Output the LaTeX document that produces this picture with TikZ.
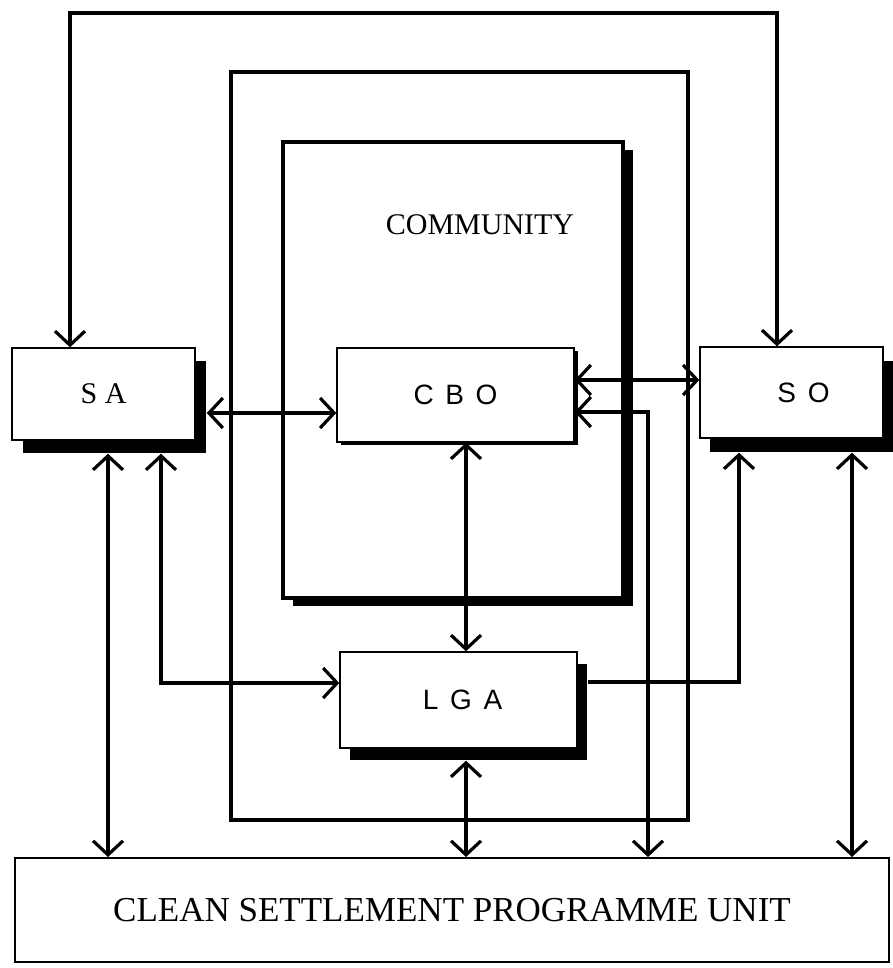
\documentclass[tikz,border=0pt]{standalone}
\usepackage{fontspec}
\setmainfont{Liberation Serif}
\newfontfamily\boxfont{Liberation Sans}[WordSpace=1.5]
\usepackage{tikz}
\usetikzlibrary{arrows.meta,calc,shadows}

\begin{document}
\begin{tikzpicture}[x=1pt, y=-1pt,
    >={Straight Barb[length=14pt,width=30pt]},
    unitbox/.style={draw, fill=white, line width=1.4pt, inner sep=0pt},
    shadowed/.style 2 args={drop shadow={shadow xshift=#1, shadow yshift=#2, fill=black, opacity=1}},
    framebox/.style={draw, line width=3.4pt, inner sep=0pt},
    link/.style={<->, line width=3.2pt},
    serifname/.style={font=\fontsize{30}{32}\selectfont},
    sansname/.style={font=\boxfont\fontsize{28}{30}\selectfont}]
    \useasboundingbox (0,0) rectangle (892,968);

    % frames
    \node[framebox, minimum width=457pt, minimum height=748pt] (outerframe) at (459.5,446) {};
    \node[framebox, fill=white, shadowed={10pt}{-8pt}, minimum width=340pt, minimum height=456pt] (community) at (453,370) {};
    \node[font=\fontsize{30}{32}\selectfont] (communitylabel) at (480,225) {COMMUNITY};

    % units
    \node[unitbox, shadowed={11pt}{-13pt}, minimum width=183pt, minimum height=92pt, serifname] (sa) at (103.5,394) {S A};
    \node[unitbox, shadowed={4pt}{-3pt}, minimum width=237pt, minimum height=94pt, sansname] (cbo) at (455.5,395) {C B O};
    \node[unitbox, shadowed={10pt}{-14pt}, minimum width=183pt, minimum height=91pt, sansname] (so) at (791.5,392.5) {\hspace*{24pt}S O};
    \node[unitbox, shadowed={10pt}{-12pt}, minimum width=237pt, minimum height=96pt, sansname] (lga) at (458.5,700) {\hspace*{8pt}L G A};
    \node[unitbox, line width=2pt, minimum width=874pt, minimum height=104pt, font=\fontsize{35}{38}\selectfont] (cspu) at (452,910) {CLEAN SETTLEMENT PROGRAMME UNIT};

    % rails
    \coordinate (loopleft) at (70,13);
    \coordinate (loopright) at (777,13);
    \coordinate (sarail) at (108,0);
    \coordinate (salgarail) at (161,0);
    \coordinate (midrail) at (466,0);
    \coordinate (cborail) at (648,412);
    \coordinate (solgarail) at (739,0);
    \coordinate (sorail) at (852,0);

    % connectors
    \draw[link] (sa.north -| loopleft) -- (loopleft) -- (loopright) -- (so.north -| loopright);
    \draw[link] ($(sa.east)+(11,19)$) -- ($(cbo.west)+(0,18)$);
    \draw[link] ($(cbo.east)+(0,-15)$) -- ($(so.west)+(0,-12.5)$);
    \draw[link] (cbo.east |- cborail) -- (cborail) -- (cborail |- cspu.north);
    \draw[link] (cbo.south -| midrail) -- (lga.north -| midrail);
    \draw[link] ($(lga.south -| midrail)+(0,12)$) -- (cspu.north -| midrail);
    \draw[link] ($(sa.south -| sarail)+(0,13)$) -- (cspu.north -| sarail);
    \draw[link] ($(sa.south -| salgarail)+(0,13)$) |- ($(lga.west)+(0,-17)$);
    \draw[link, <-] ($(so.south -| solgarail)+(0,14)$) |- ($(lga.east)+(10,-18)$);
    \draw[link] ($(so.south -| sorail)+(0,14)$) -- (cspu.north -| sorail);
\end{tikzpicture}
\end{document}
